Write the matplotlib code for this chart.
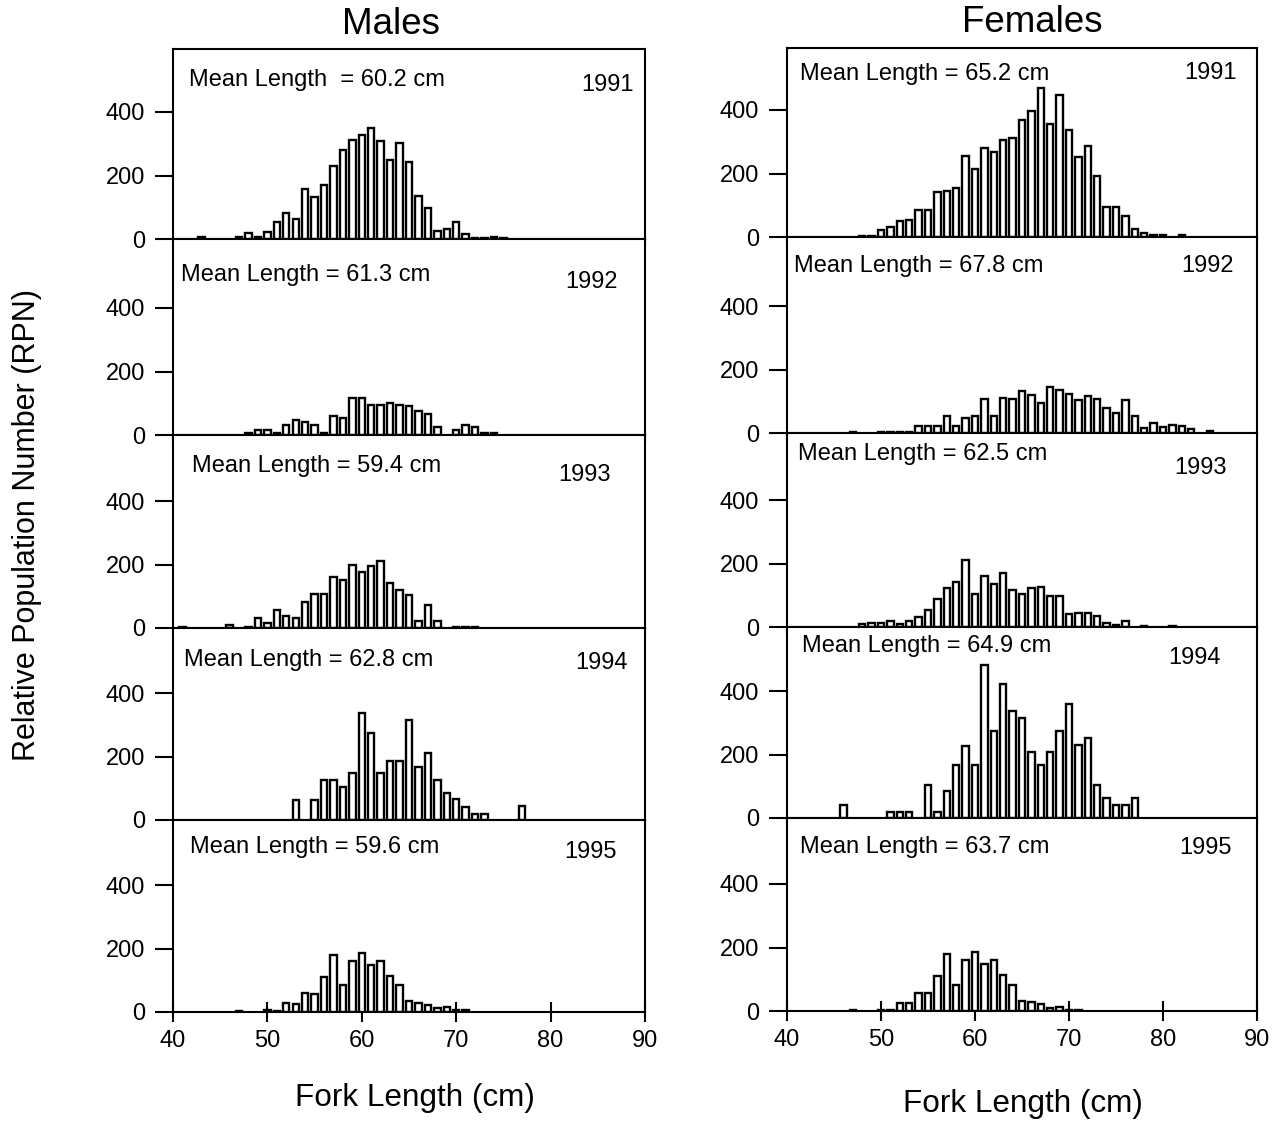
import matplotlib
matplotlib.use("Agg")
import matplotlib.pyplot as plt

plt.rcParams['font.family'] = ['Liberation Sans', 'DejaVu Sans']

# ---------------- data (fork length cm -> relative population number) ----------------
years = [1991, 1992, 1993, 1994, 1995]

male_means = ["60.2", "61.3", "59.4", "62.8", "59.6"]
female_means = ["65.2", "67.8", "62.5", "64.9", "63.7"]

m1991_len = [43, 47, 48, 49, 50, 51, 52, 53, 54, 55, 56, 57, 58, 59, 60, 61, 62, 63, 64, 65, 66, 67, 68, 69, 70, 71, 72, 73, 74, 75]
m1991_rpn = [5, 5, 20, 5, 22, 53, 81, 63, 157, 131, 171, 229, 279, 312, 329, 351, 309, 250, 303, 241, 137, 97, 26, 31, 55, 17, 2, 2, 5, 2]

m1992_len = [48, 49, 50, 51, 52, 53, 54, 55, 56, 57, 58, 59, 60, 61, 62, 63, 64, 65, 66, 67, 68, 70, 71, 72, 73, 74]
m1992_rpn = [7, 15, 15, 7, 31, 46, 40, 32, 7, 61, 53, 116, 116, 93, 95, 100, 95, 91, 77, 67, 24, 15, 31, 26, 5, 5]

m1993_len = [41, 46, 48, 49, 50, 51, 52, 53, 54, 55, 56, 57, 58, 59, 60, 61, 62, 63, 64, 65, 66, 67, 68, 70, 71, 72]
m1993_rpn = [3, 9, 4, 32, 16, 57, 39, 31, 83, 108, 106, 160, 152, 199, 177, 195, 210, 143, 120, 104, 23, 73, 23, 3, 3, 3]

m1994_len = [53, 55, 56, 57, 58, 59, 60, 61, 62, 63, 64, 65, 66, 67, 68, 69, 70, 71, 72, 73, 77]
m1994_rpn = [64, 64, 126, 126, 105, 148, 336, 273, 147, 185, 185, 315, 167, 210, 126, 84, 65, 42, 20, 20, 44]

m1995_len = [47, 50, 51, 52, 53, 54, 55, 56, 57, 58, 59, 60, 61, 62, 63, 64, 65, 66, 67, 68, 69, 70, 71]
m1995_rpn = [3, 5, 3, 27, 26, 60, 58, 111, 181, 86, 162, 187, 149, 161, 113, 86, 35, 29, 23, 14, 16, 5, 5]

f1991_len = [48, 49, 50, 51, 52, 53, 54, 55, 56, 57, 58, 59, 60, 61, 62, 63, 64, 65, 66, 67, 68, 69, 70, 71, 72, 73, 74, 75, 76, 77, 78, 79, 80, 82]
f1991_rpn = [3, 3, 23, 33, 49, 55, 84, 86, 141, 145, 154, 255, 213, 280, 267, 307, 313, 370, 397, 469, 355, 448, 337, 251, 288, 193, 94, 94, 66, 24, 14, 6, 6, 6]

f1992_len = [47, 50, 51, 52, 53, 54, 55, 56, 57, 58, 59, 60, 61, 62, 63, 64, 65, 66, 67, 68, 69, 70, 71, 72, 73, 74, 75, 76, 77, 78, 79, 80, 81, 82, 83, 85]
f1992_rpn = [4, 4, 4, 2, 3, 23, 21, 21, 52, 21, 46, 52, 108, 55, 110, 108, 132, 120, 93, 144, 137, 124, 103, 117, 108, 78, 62, 105, 52, 15, 33, 18, 26, 23, 14, 5]

f1993_len = [48, 49, 50, 51, 52, 53, 54, 55, 56, 57, 58, 59, 60, 61, 62, 63, 64, 65, 66, 67, 68, 69, 70, 71, 72, 73, 74, 75, 76, 78, 81]
f1993_rpn = [10, 12, 12, 18, 10, 18, 31, 55, 87, 124, 143, 211, 103, 160, 134, 170, 118, 103, 122, 127, 99, 99, 41, 44, 43, 34, 12, 6, 18, 3, 3]

f1994_len = [46, 51, 52, 53, 55, 56, 57, 58, 59, 60, 61, 62, 63, 64, 65, 66, 67, 68, 69, 70, 71, 72, 73, 74, 75, 76, 77]
f1994_rpn = [41, 19, 19, 19, 104, 19, 84, 168, 228, 166, 482, 274, 422, 336, 315, 208, 166, 208, 274, 359, 230, 251, 104, 62, 41, 41, 62]

f1995_len = [47, 50, 51, 52, 53, 54, 55, 56, 57, 58, 59, 60, 61, 62, 63, 64, 65, 66, 67, 68, 69, 70, 71]
f1995_rpn = [3, 4, 3, 24, 24, 58, 57, 110, 180, 83, 160, 186, 147, 160, 112, 83, 33, 27, 21, 11, 14, 4, 4]

x_ticks = [40, 50, 60, 70, 80, 90]
y_ticks = [0, 200, 400]

male_data = [(m1991_len, m1991_rpn), (m1992_len, m1992_rpn), (m1993_len, m1993_rpn),
             (m1994_len, m1994_rpn), (m1995_len, m1995_rpn)]
female_data = [(f1991_len, f1991_rpn), (f1992_len, f1992_rpn), (f1993_len, f1993_rpn),
               (f1994_len, f1994_rpn), (f1995_len, f1995_rpn)]

# ---------------- layout (pixels) ----------------
W, H = 1288, 1122
fig = plt.figure(figsize=(W / 100, H / 100), dpi=100)

cols = [
    dict(x0=173, x1=645, bounds=[49, 239, 435, 628, 820, 1012], data=male_data, means=male_means,
         mean_pos=[(189, 80), (181, 275), (192, 466), (184, 660), (190, 847)],
         year_pos=[(634, 85), (618, 282), (611, 475), (628, 663), (617, 852)],
         double_space_first=True),
    dict(x0=787, x1=1257, bounds=[48, 237, 433, 627, 818, 1011], data=female_data, means=female_means,
         mean_pos=[(800, 74), (794, 266), (798, 454), (802, 646), (800, 847)],
         year_pos=[(1237, 73), (1234, 266), (1227, 468), (1221, 658), (1232, 848)],
         double_space_first=False),
]

FS = 17
LW = 1.5

def fx(px):
    return px / W

def fy(py):
    return 1 - py / H

for col in cols:
    b = col['bounds']
    for i in range(5):
        top, bot = b[i], b[i + 1]
        ax = fig.add_axes([fx(col['x0']), fy(bot), fx(col['x1']) - fx(col['x0']), (bot - top) / H])
        lens, rpn = col['data'][i]
        ax.bar(lens, rpn, width=0.68, color='white', edgecolor='black', linewidth=1.7, zorder=3)
        ax.set_xlim(40, 90)
        scale = 400 / 127.0  # units per pixel
        ax.set_ylim(0, (bot - top) * scale)
        ax.set_yticks(y_ticks)
        ax.set_xticks(x_ticks)
        for s in ax.spines.values():
            s.set_linewidth(LW)
        ax.tick_params(axis='y', direction='out', length=13, width=LW, labelsize=FS, pad=7)
        if i == 4:
            ax.tick_params(axis='x', direction='inout', length=14, width=LW, labelsize=FS, pad=6)
        else:
            ax.tick_params(axis='x', direction='out', length=6, width=LW, labelbottom=False)
        sp = "  " if (col['double_space_first'] and i == 0) else " "
        mx, my = col['mean_pos'][i]
        fig.text(fx(mx), fy(my), f"Mean Length{sp}= {col['means'][i]} cm", fontsize=FS,
                 ha='left', va='center')
        yx, yy = col['year_pos'][i]
        fig.text(fx(yx), fy(yy), str(years[i]), fontsize=FS, ha='right', va='center')

fig.text(fx(391), fy(25), "Males", fontsize=26.5, ha='center', va='center')
fig.text(fx(1032), fy(22), "Females", fontsize=26.5, ha='center', va='center')
fig.text(fx(415), fy(1098), "Fork Length (cm)", fontsize=22.7, ha='center', va='center')
fig.text(fx(1023), fy(1104), "Fork Length (cm)", fontsize=22.7, ha='center', va='center')
fig.text(fx(27), fy(525), "Relative Population Number (RPN)", fontsize=22, ha='center',
         va='center', rotation=90)

fig.savefig("out.png", dpi=100)
